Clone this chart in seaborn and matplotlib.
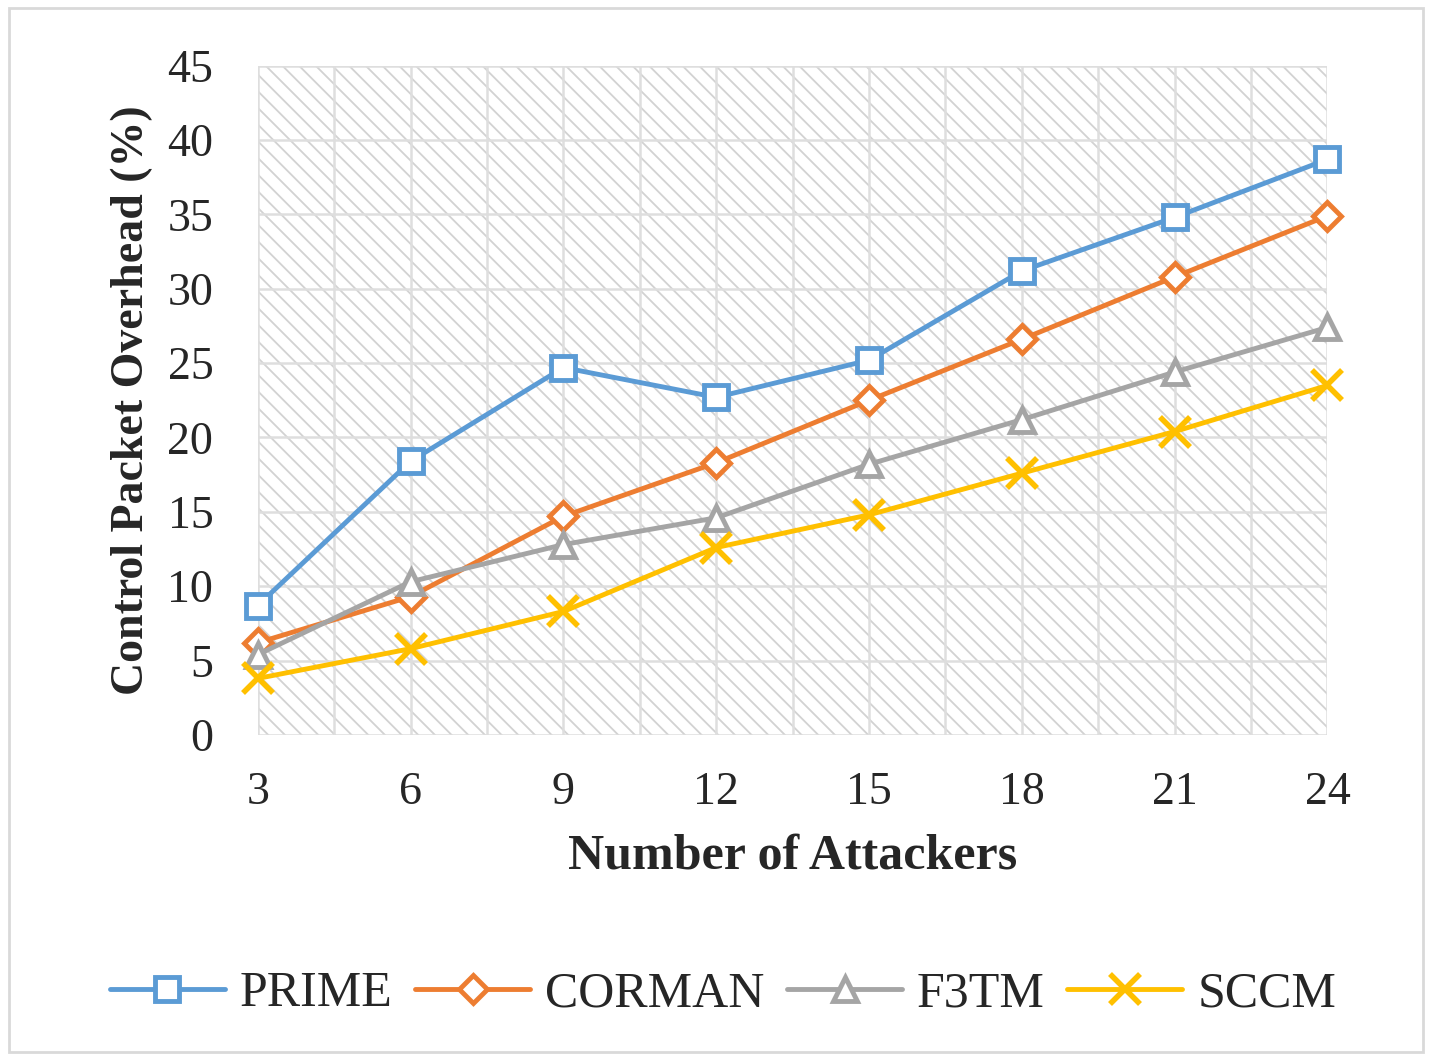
import numpy as np
import pandas as pd
import seaborn as sns
import matplotlib.pyplot as plt
from matplotlib.patches import Rectangle
from matplotlib.ticker import MultipleLocator

attackers = [3, 6, 9, 12, 15, 18, 21, 24]
prime = [8.7, 18.4, 24.7, 22.7, 25.2, 31.2, 34.8, 38.7]
corman = [6.2, 9.3, 14.7, 18.3, 22.5, 26.6, 30.8, 34.9]
f3tm = [5.4, 10.3, 12.8, 14.6, 18.2, 21.2, 24.4, 27.4]
sccm = [3.8, 5.8, 8.3, 12.6, 14.8, 17.6, 20.4, 23.5]

names = ["PRIME", "CORMAN", "F3TM", "SCCM"]
colors = ["#5B9BD5", "#ED7D31", "#A5A5A5", "#FFC000"]
markers = ["s", "D", "^", "x"]

sns.set_style("white")
plt.rcParams['font.family'] = ['Liberation Serif', 'DejaVu Serif']
plt.rcParams['hatch.color'] = '#D2D2D2'
plt.rcParams['hatch.linewidth'] = 1.3

fig = plt.figure(figsize=(14.32, 10.59), dpi=100)
fig.patches.append(Rectangle((0.006, 0.007), 0.988, 0.985, transform=fig.transFigure,
                             fill=False, edgecolor="#D9D9D9", linewidth=2))
ax = fig.add_axes([0.180, 0.306, 0.747, 0.632])

# hatched plot area
ax.add_patch(Rectangle((3, 0), 21, 45, facecolor="white", edgecolor="#D2D2D2",
                       hatch="\\\\", linewidth=0, zorder=0))

for name, vals, c, m in zip(names, [prime, corman, f3tm, sccm], colors, markers):
    df = pd.DataFrame({"x": attackers, "y": vals})
    if m == "x":
        sns.lineplot(data=df, x="x", y="y", ax=ax, color=c, linewidth=3.5, marker=m,
                     markersize=21, markeredgecolor=c, markeredgewidth=4,
                     label=name, clip_on=False, zorder=3)
    else:
        sns.lineplot(data=df, x="x", y="y", ax=ax, color=c, linewidth=3.5, marker=m,
                     markersize=17 if m != "D" else 14, markerfacecolor="white",
                     markeredgecolor=c, markeredgewidth=3.5, label=name,
                     clip_on=False, zorder=3)

ax.set_xlim(3, 24)
ax.set_ylim(0, 45)
ax.set_xticks(attackers)
ax.xaxis.set_minor_locator(MultipleLocator(1.5))
ax.yaxis.set_major_locator(MultipleLocator(5))
ax.grid(True, which="major", axis="y", color="#DEDEDE", linewidth=1.8, zorder=1)
ax.grid(True, which="both", axis="x", color="#DEDEDE", linewidth=1.8, zorder=1)
ax.set_axisbelow(True)
for s in ax.spines.values():
    s.set_visible(False)
ax.tick_params(axis="both", which="both", length=0, labelsize=33)
ax.tick_params(axis="x", pad=26)
ax.tick_params(axis="y", pad=32)

ax.set_xlabel("Number of Attackers", fontsize=36, fontweight="bold", labelpad=14)
ax.set_ylabel("Control Packet Overhead (%)", fontsize=33, fontweight="bold", labelpad=10)

ax.legend(loc="upper center", bbox_to_anchor=(0.435, -0.285), ncol=4, frameon=False,
          fontsize=36, handlelength=2.3, columnspacing=0.45, handletextpad=0.3)

fig.savefig("out.png", dpi=100)
